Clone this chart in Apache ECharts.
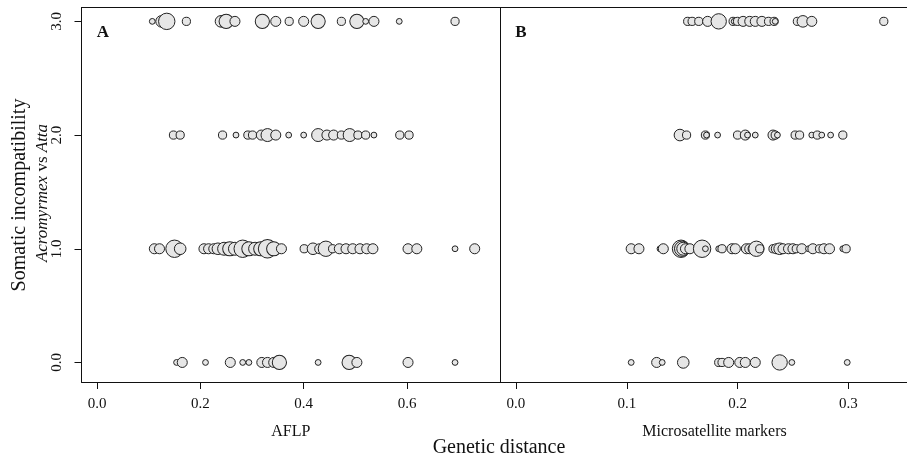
<!DOCTYPE html>
<html>
<head>
<meta charset="utf-8">
<script src="https://cdn.jsdelivr.net/npm/echarts@6/dist/echarts.min.js"></script>
<style>
  html, body { margin: 0; padding: 0; background: #ffffff; }
  #chart { width: 907px; height: 460px; }
</style>
</head>
<body>
<div id="chart"></div>
<script>
// Somatic incompatibility score (0-3) plotted against pairwise genetic distance,
// for AFLP data (panel A) and microsatellite markers (panel B).
// For every score: the distances, and how many colony pairs share each point.

const yTicks = [0, 1, 2, 3];
const aflpTicks = [0, 0.2, 0.4, 0.6];
const microTicks = [0, 0.1, 0.2, 0.3];

// ---- AFLP ----
const aflpDist0  = [0.154, 0.165, 0.210, 0.258, 0.282, 0.294, 0.319, 0.330, 0.342, 0.353, 0.428, 0.488, 0.503, 0.602, 0.693];
const aflpPairs0 = [1, 3, 1, 3, 1, 1, 3, 3, 3, 6, 1, 6, 3, 3, 1];

const aflpDist1  = [0.111, 0.121, 0.150, 0.161, 0.207, 0.216, 0.226, 0.234, 0.246, 0.257, 0.267, 0.282, 0.294, 0.306, 0.317, 0.330, 0.342, 0.357,
                    0.401, 0.418, 0.431, 0.443, 0.456, 0.469, 0.482, 0.495, 0.509, 0.522, 0.534, 0.602, 0.619, 0.693, 0.731];
const aflpPairs1 = [3, 3, 9, 4, 3, 3, 3, 4, 5, 6, 5, 9, 6, 5, 6, 10, 6, 3,
                    2, 4, 3, 7, 2, 3, 3, 3, 3, 3, 3, 3, 3, 1, 3];

const aflpDist2  = [0.148, 0.161, 0.243, 0.269, 0.292, 0.301, 0.318, 0.330, 0.346, 0.371, 0.400, 0.428, 0.445, 0.458, 0.473, 0.489, 0.505, 0.520, 0.536, 0.586, 0.604];
const aflpPairs2 = [2, 2, 2, 1, 2, 2, 3, 5, 3, 1, 1, 5, 3, 3, 2, 5, 2, 2, 1, 2, 2];

const aflpDist3  = [0.107, 0.125, 0.135, 0.173, 0.240, 0.250, 0.267, 0.320, 0.346, 0.372, 0.400, 0.428, 0.473, 0.503, 0.520, 0.536, 0.585, 0.693];
const aflpPairs3 = [1, 4, 8, 2, 4, 6, 3, 6, 3, 2, 3, 6, 2, 6, 1, 3, 1, 2];

// ---- Microsatellites ----
const microDist0  = [0.104, 0.127, 0.132, 0.151, 0.183, 0.186, 0.192, 0.202, 0.207, 0.216, 0.238, 0.249, 0.299];
const microPairs0 = [1, 3, 1, 4, 2, 2, 3, 3, 3, 3, 7, 1, 1];

const microDist1  = [0.104, 0.111, 0.130, 0.133, 0.149, 0.150, 0.151, 0.153, 0.157, 0.168, 0.171, 0.183, 0.186, 0.195, 0.198,
                     0.206, 0.208, 0.211, 0.214, 0.217, 0.220, 0.232, 0.235, 0.238, 0.241, 0.246, 0.250, 0.253, 0.258,
                     0.264, 0.268, 0.274, 0.278, 0.283, 0.295, 0.298];
const microPairs1 = [3, 3, 1, 3, 9, 7, 5, 3, 3, 9, 1, 1, 2, 3, 3,
                     1, 3, 3, 3, 7, 2, 2, 3, 4, 3, 3, 3, 2, 3,
                     1, 3, 2, 3, 3, 1, 2];

const microDist2  = [0.148, 0.154, 0.171, 0.172, 0.182, 0.200, 0.207, 0.209, 0.216, 0.232, 0.234, 0.236, 0.252, 0.256, 0.267, 0.272, 0.276, 0.284, 0.295];
const microPairs2 = [4, 2, 2, 1, 1, 2, 3, 1, 1, 3, 2, 1, 2, 2, 1, 2, 1, 1, 2];

const microDist3  = [0.155, 0.159, 0.165, 0.173, 0.183, 0.196, 0.197, 0.200, 0.205, 0.211, 0.216, 0.222, 0.228, 0.233, 0.234, 0.254, 0.259, 0.267, 0.332];
const microPairs3 = [2, 2, 2, 3, 7, 2, 1, 2, 3, 3, 3, 3, 2, 2, 1, 2, 4, 3, 2];

const aflpRows  = [[aflpDist0, aflpPairs0], [aflpDist1, aflpPairs1], [aflpDist2, aflpPairs2], [aflpDist3, aflpPairs3]];
const microRows = [[microDist0, microPairs0], [microDist1, microPairs1], [microDist2, microPairs2], [microDist3, microPairs3]];

function toPoints(rows) {
  const pts = [];
  rows.forEach(function (row, level) {
    row[0].forEach(function (d, i) { pts.push([d, yTicks[level], row[1][i]]); });
  });
  return pts;
}

// bubble area grows with the number of pairs
function bubbleSize(v) { return 5.8 * Math.sqrt(v[2]); }

const FONT = 'Liberation Serif';
const INK = '#111111';

function bottomAxis(grid, min, max, ticks, name) {
  return {
    type: 'value', gridIndex: grid, position: 'bottom', min: min, max: max,
    axisLine: { show: true, onZero: false, lineStyle: { color: INK, width: 1 } },
    axisTick: { show: true, inside: false, length: 7, customValues: ticks, lineStyle: { color: INK, width: 1 } },
    axisLabel: { show: true, customValues: ticks, margin: 15, fontFamily: FONT, fontSize: 15, color: INK,
                 formatter: function (v) { return v.toFixed(1); } },
    splitLine: { show: false },
    name: name, nameLocation: 'middle', nameGap: 42,
    nameTextStyle: { fontFamily: FONT, fontSize: 16, color: INK }
  };
}
function topAxis(grid, min, max) {
  return {
    type: 'value', gridIndex: grid, position: 'top', min: min, max: max,
    axisLine: { show: true, onZero: false, lineStyle: { color: INK, width: 1 } },
    axisTick: { show: false }, axisLabel: { show: false }, splitLine: { show: false }
  };
}

const Y_MIN = -0.172, Y_MAX = 3.122;

const bubbleStyle = { color: '#e6e6e6', borderColor: '#222222', borderWidth: 1, opacity: 1 };

const option = {
  backgroundColor: '#ffffff',
  animation: false,
  grid: [
    { left: 81.5, top: 7.5, width: 418.5, height: 374.5, containLabel: false, outerBoundsMode: 'none' },
    { left: 500, top: 7.5, width: 429, height: 374.5, containLabel: false, outerBoundsMode: 'none' }
  ],
  xAxis: [
    bottomAxis(0, -0.03, 0.78, aflpTicks, 'AFLP'),
    topAxis(0, -0.03, 0.78),
    bottomAxis(1, -0.0144, 0.3728, microTicks, 'Microsatellite markers'),
    topAxis(1, -0.0144, 0.3728)
  ],
  yAxis: [
    {
      type: 'value', gridIndex: 0, min: Y_MIN, max: Y_MAX,
      axisLine: { show: true, onZero: false, lineStyle: { color: INK, width: 1 } },
      axisTick: { show: true, length: 7, customValues: yTicks, lineStyle: { color: INK, width: 1 } },
      axisLabel: { show: true, customValues: yTicks, rotate: 90, margin: 17, fontFamily: FONT, fontSize: 15, color: INK,
                   formatter: function (v) { return v.toFixed(1); } },
      splitLine: { show: false }
    },
    {
      type: 'value', gridIndex: 1, min: Y_MIN, max: Y_MAX,
      axisLine: { show: true, onZero: false, lineStyle: { color: INK, width: 1 } },
      axisTick: { show: false }, axisLabel: { show: false }, splitLine: { show: false }
    }
  ],
  series: [
    {
      type: 'scatter', xAxisIndex: 0, yAxisIndex: 0,
      data: toPoints(aflpRows), symbol: 'circle', symbolSize: bubbleSize,
      itemStyle: bubbleStyle, emphasis: { disabled: true }
    },
    {
      type: 'scatter', xAxisIndex: 2, yAxisIndex: 1,
      data: toPoints(microRows), symbol: 'circle', symbolSize: bubbleSize,
      itemStyle: bubbleStyle, emphasis: { disabled: true }
    }
  ],
  graphic: [
    { type: 'text', x: 103, y: 33, style: { text: 'A', fontFamily: FONT, fontSize: 17, fontWeight: 'bold', fill: INK, align: 'center', verticalAlign: 'middle' } },
    { type: 'text', x: 521, y: 33, style: { text: 'B', fontFamily: FONT, fontSize: 17, fontWeight: 'bold', fill: INK, align: 'center', verticalAlign: 'middle' } },
    { type: 'text', x: 20, y: 195, rotation: Math.PI / 2,
      style: { text: 'Somatic incompatibility', fontFamily: FONT, fontSize: 20, fill: INK, align: 'center', verticalAlign: 'middle' } },
    { type: 'text', x: 43, y: 193, rotation: Math.PI / 2,
      style: { text: '{i|Acromyrmex} vs {i|Atta}', fontFamily: FONT, fontSize: 17, fill: INK, align: 'center', verticalAlign: 'middle',
               rich: { i: { fontFamily: FONT, fontSize: 17, fontStyle: 'italic', fill: INK } } } },
    { type: 'text', x: 499, y: 448,
      style: { text: 'Genetic distance', fontFamily: FONT, fontSize: 20, fill: INK, align: 'center', verticalAlign: 'middle' } }
  ]
};

const chart = echarts.init(document.getElementById('chart'), null, { renderer: 'canvas' });
chart.setOption(option);
</script>
</body>
</html>
